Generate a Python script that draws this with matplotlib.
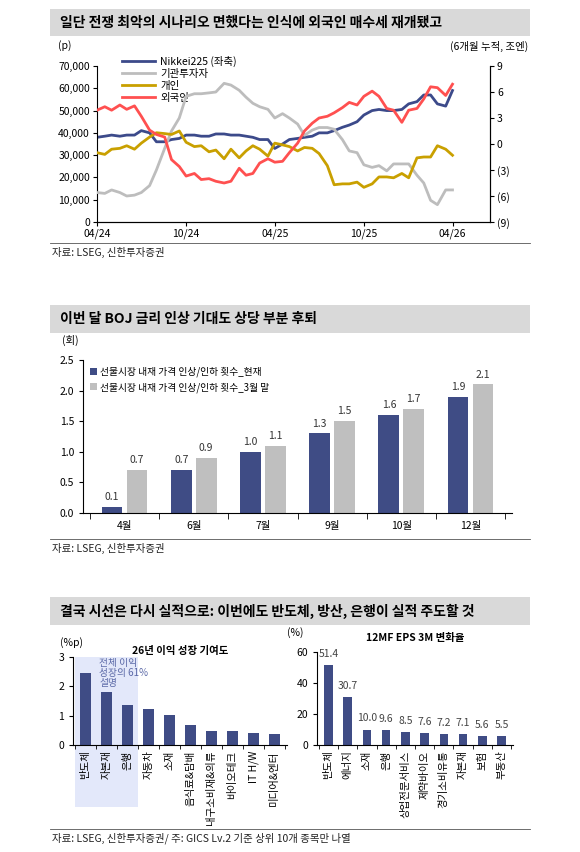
import matplotlib
matplotlib.use("Agg")
import matplotlib.pyplot as plt
import numpy as np
import pandas as pd
from matplotlib.patches import Rectangle
from matplotlib.transforms import blended_transform_factory

plt.rcParams['font.family'] = ['Noto Sans CJK KR', 'DejaVu Sans']
plt.rcParams['font.size'] = 7.5

dates = pd.date_range('2024-04-15', periods=49, freq='SMS')
nikkei = [38, 38.5, 39, 38.5, 39, 39, 41, 40, 36, 36, 37, 37.5, 39, 39, 38.5, 38.5, 39.5, 39.5, 39, 39,
          38.5, 38, 37, 37, 33, 35, 37, 37.5, 38, 38.5, 40, 40, 41, 42.5, 43.5, 45, 48, 50, 50.5, 50,
          50, 50.5, 53, 54, 57, 57, 53, 52, 59]
nikkei = [v * 1000 for v in nikkei]
inst = [-5.6, -5.7, -5.3, -5.6, -6.0, -5.9, -5.6, -4.8, -3, -0.5, 1.5, 3, 5.5, 5.8, 5.8, 5.9, 6.0, 7.0, 6.8, 6.2,
        5.4, 4.7, 4.3, 4.0, 3.0, 3.5, 3.0, 2.3, 1.0, 1.6, 1.9, 1.9, 1.7, 0.5, -0.8, -1.0, -2.4, -2.7, -2.5, -3.1,
        -2.3, -2.3, -2.3, -3.6, -4.5, -6.5, -7.0, -5.3, -5.3]
indiv = [-1.0, -1.2, -0.6, -0.5, -0.2, -0.6, 0.1, 0.8, 1.3, 1.2, 1.1, 1.5, 0.2, -0.3, -0.2, -0.9, -0.7, -1.7, -0.6, -1.6,
         -0.8, -0.2, -0.6, -1.4, 0.1, -0.1, -0.3, -0.8, -0.4, -0.5, -1.1, -2.5, -4.7, -4.6, -4.6, -4.4, -5.0, -4.6, -3.8, -3.8,
         -3.9, -3.4, -3.9, -1.6, -1.5, -1.5, -0.2, -0.6, -1.3]
foreign = [3.9, 4.3, 3.9, 4.5, 4.0, 4.4, 3.2, 1.6, 1.1, 0.8, -1.8, -2.6, -3.7, -3.4, -4.1, -4.0, -4.3, -4.5, -4.3, -2.8,
           -3.6, -3.4, -2.2, -1.7, -2.1, -2.0, -1.0, 0.1, 1.5, 2.4, 3.0, 3.2, 3.6, 4.2, 4.8, 4.5, 5.5, 6.1, 5.5, 4.1,
           3.9, 2.5, 3.9, 4.1, 5.2, 6.6, 6.5, 5.6, 6.9]
xticks = ['04/24', '10/24', '04/25', '10/25', '04/26']

boj_cats = ['4월', '6월', '7월', '9월', '10월', '12월']
boj_now = [0.1, 0.7, 1.0, 1.3, 1.6, 1.9]
boj_mar = [0.7, 0.9, 1.1, 1.5, 1.7, 2.1]

contrib_cats = ['반도체', '자본재', '은행', '자동차', '소재', '음식료&담배', '내구소비재&의류', '바이오테크', 'IT H/W', '미디어&엔터']
contrib_vals = [2.45, 1.82, 1.37, 1.23, 1.03, 0.68, 0.49, 0.49, 0.42, 0.38]

eps_cats = ['반도체', '에너지', '소재', '은행', '상업전문서비스', '제약바이오', '경기소비유통', '자본재', '보험', '부동산']
eps_vals = [51.4, 30.7, 10.0, 9.6, 8.5, 7.6, 7.2, 7.1, 5.6, 5.5]

NAVY = '#3F4C85'
W, H = 580, 852
fig = plt.figure(figsize=(W / 100, H / 100), dpi=100)

def ax_px(x0, y0, x1, y1):
    return fig.add_axes([x0 / W, 1 - y1 / H, (x1 - x0) / W, (y1 - y0) / H])

def title_bar(y0, y1, text):
    fig.patches.append(Rectangle((50 / W, 1 - y1 / H), 480 / W, (y1 - y0) / H, transform=fig.transFigure,
                                 facecolor='#D9D9D9', edgecolor='none'))
    fig.text(60 / W, 1 - (y0 + y1) / 2 / H, text, fontsize=10, fontweight='bold', va='center')

def source(y, text):
    fig.add_artist(plt.Line2D([50 / W, 530 / W], [1 - (y - 9) / H] * 2, color='#555', lw=0.6))
    fig.text(52 / W, 1 - y / H, text, fontsize=7.5, va='center', color='#222')

# ---------- chart 1 ----------
title_bar(9, 36, '일단 전쟁 최악의 시나리오 면했다는 인식에 외국인 매수세 재개됐고')
ax = ax_px(97, 66, 490, 222)
ax2 = ax.twinx()
l1, = ax.plot(dates, nikkei, color='#3C4A8A', lw=2)
l2, = ax2.plot(dates, inst, color='#BDBDBD', lw=2)
l3, = ax2.plot(dates, indiv, color='#C9A000', lw=2)
l4, = ax2.plot(dates, foreign, color='#FF5050', lw=2)
ax.set_ylim(0, 70000)
ax.set_yticks(range(0, 70001, 10000))
ax.set_yticklabels([f'{v:,}' for v in range(0, 70001, 10000)])
ax2.set_ylim(-9, 9)
ax2.set_yticks(range(-9, 10, 3))
ax2.set_yticklabels(['(9)', '(6)', '(3)', '0', '3', '6', '9'])
tick_dates = pd.to_datetime(['2024-04-15', '2024-10-15', '2025-04-15', '2025-10-15', '2026-04-15'])
ax.set_xticks(tick_dates)
ax.set_xticklabels(xticks)
ax.set_xlim(pd.Timestamp('2024-04-15'), pd.Timestamp('2026-07-01'))
for a in (ax, ax2):
    a.spines['top'].set_visible(False)
    a.tick_params(length=3, pad=2)
ax2.spines['left'].set_visible(False)
ax.legend([l1, l2, l3, l4], ['Nikkei225 (좌축)', '기관투자자', '개인', '외국인'], loc='upper left',
          bbox_to_anchor=(0.05, 1.1), frameon=False, handlelength=3.2, labelspacing=0.2, borderpad=0,
          handletextpad=0.5)
fig.text(58 / W, 1 - 46 / H, '(p)', fontsize=7.5, va='center')
fig.text(528 / W, 1 - 46 / H, '(6개월 누적, 조엔)', fontsize=7.5, va='center', ha='right')
source(252, '자료: LSEG, 신한투자증권')

# ---------- chart 2 ----------
title_bar(305, 333, '이번 달 BOJ 금리 인상 기대도 상당 부분 후퇴')
ax = ax_px(83, 360, 512, 513)
x = np.arange(len(boj_cats))
w = 0.3
b1 = ax.bar(x - w / 2 - 0.03, boj_now, w, color=NAVY, label='선물시장 내재 가격 인상/인하 횟수_현재')
b2 = ax.bar(x + w / 2 + 0.03, boj_mar, w, color='#BFBFBF', label='선물시장 내재 가격 인상/인하 횟수_3월 말')
for r, v in zip(list(b1) + list(b2), boj_now + boj_mar):
    ax.text(r.get_x() + r.get_width() / 2, v + 0.08, f'{v:.1f}', ha='center', va='bottom', fontsize=7.5, color='#333')
ax.set_ylim(0, 2.5)
ax.set_yticks(np.arange(0, 2.51, 0.5))
ax.set_yticklabels([f'{v:.1f}' for v in np.arange(0, 2.51, 0.5)])
ax.set_xlim(-0.6, 5.6)
ax.set_xticks(x)
ax.set_xticklabels(boj_cats)
ax.tick_params(axis='x', length=0, pad=6)
ax.set_xticks(np.arange(-0.5, 6, 1), minor=True)
ax.tick_params(axis='x', which='minor', length=4)
ax.spines['top'].set_visible(False)
ax.spines['right'].set_visible(False)
ax.tick_params(axis='y', length=3)
ax.legend(loc='upper left', frameon=False, handlelength=0.7, handleheight=0.7, fontsize=7,
          labelspacing=0.5, borderpad=0.2, handletextpad=0.4)
fig.text(62 / W, 1 - 340 / H, '(회)', fontsize=7.5, va='center')
source(548, '자료: LSEG, 신한투자증권')

# ---------- chart 3 ----------
title_bar(597, 625, '결국 시선은 다시 실적으로: 이번에도 반도체, 방산, 은행이 실적 주도할 것')
ax = ax_px(73, 657, 287, 745)
x = np.arange(len(contrib_cats))
tr = blended_transform_factory(ax.transData, ax.transAxes)
ax.add_patch(Rectangle((-0.5, -0.7), 3, 1.7, transform=tr, facecolor='#E3E8FA', edgecolor='none',
                       clip_on=False, zorder=0))
ax.bar(x, contrib_vals, 0.5, color=NAVY, zorder=2)
ax.text(0.65, 2.95, '전체 이익\n성장의 61%\n설명', fontsize=7, color='#5C6AA8', va='top', linespacing=1.0, zorder=3)
ax.set_ylim(0, 3)
ax.set_yticks([0, 1, 2, 3])
ax.set_xlim(-0.6, 9.6)
ax.set_xticks(x)
ax.set_xticklabels(contrib_cats, rotation=90, fontsize=7.5)
ax.tick_params(axis='x', length=0, pad=4)
ax.set_xticks(np.arange(-0.5, 10, 1), minor=True)
ax.tick_params(axis='x', which='minor', length=3)
ax.tick_params(axis='y', length=3)
ax.spines['top'].set_visible(False)
ax.spines['right'].set_visible(False)
ax.set_title('26년 이익 성장 기여도', fontsize=7.5, fontweight='bold', pad=2)
fig.text(60 / W, 1 - 643 / H, '(%p)', fontsize=7.5, va='center')

ax = ax_px(317, 652, 513, 745)
x = np.arange(len(eps_cats))
ax.bar(x, eps_vals, 0.45, color=NAVY)
for xi, v in zip(x, eps_vals):
    ax.text(xi, v + 4, f'{v:.1f}', ha='center', va='bottom', fontsize=7.5, color='#444')
ax.set_ylim(0, 60)
ax.set_yticks([0, 20, 40, 60])
ax.set_xlim(-0.6, 9.6)
ax.set_xticks(x)
ax.set_xticklabels(eps_cats, rotation=90, fontsize=7.5)
ax.tick_params(axis='x', length=0, pad=4)
ax.set_xticks(np.arange(-0.5, 10, 1), minor=True)
ax.tick_params(axis='x', which='minor', length=3)
ax.tick_params(axis='y', length=3)
ax.spines['top'].set_visible(False)
ax.spines['right'].set_visible(False)
ax.set_title('12MF EPS 3M 변화율', fontsize=7.5, fontweight='bold', pad=8)
fig.text(287 / W, 1 - 633 / H, '(%)', fontsize=7.5, va='center')
source(838, '자료: LSEG, 신한투자증권/ 주: GICS Lv.2 기준 상위 10개 종목만 나열')

fig.savefig('out.png', dpi=100)
